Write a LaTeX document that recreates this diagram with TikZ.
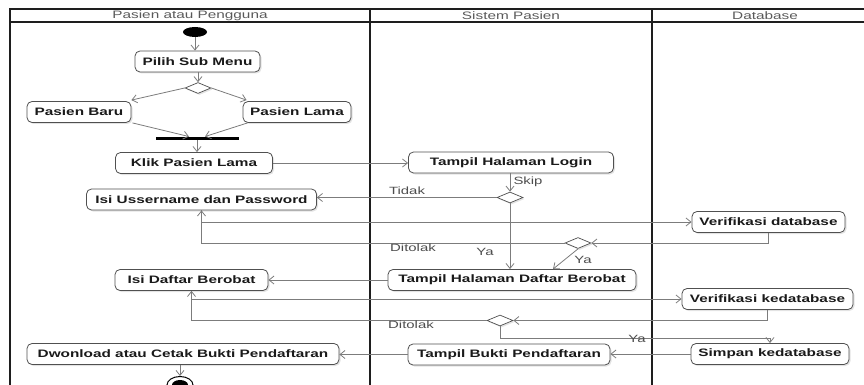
\documentclass[tikz,border=0pt]{standalone}
\usepackage{fontspec}
\setmainfont[FakeStretch=1.42]{Liberation Sans}
\usetikzlibrary{shapes.geometric,arrows.meta,calc,shadows}

\definecolor{framec}{HTML}{1E1E1E}
\definecolor{linec}{HTML}{7C7C7C}
\definecolor{boxc}{HTML}{505050}
\definecolor{txtc}{HTML}{1A1A1A}
\definecolor{lblc}{HTML}{4D4D4D}
\definecolor{hdrc}{HTML}{5A5A5A}

\tikzset{
  softshadow/.style={drop shadow={shadow xshift=1.5pt, shadow yshift=-1.5pt, opacity=0.22, fill=gray}},
  act/.style={draw=boxc, line width=0.8pt, rounded corners=5pt, fill=white,
    minimum height=21pt, inner xsep=2pt, inner ysep=0pt, text=txtc,
    font=\fontsize{10.8}{12}\selectfont\bfseries, softshadow},
  decis/.style={diamond, draw=boxc, line width=0.7pt, fill=white,
    minimum width=26pt, minimum height=11pt, inner sep=0pt, softshadow},
  flow/.style={draw=linec, line width=0.8pt, -{Straight Barb[length=5pt,width=8pt]}},
  lbl/.style={font=\fontsize{10.5}{12}\selectfont, text=lblc, inner sep=0pt},
  hdr/.style={font=\fontsize{10.8}{12}\selectfont, text=hdrc, inner sep=0pt},
  lane/.style={draw=framec, line width=1.6pt},
}

\begin{document}
\begin{tikzpicture}[x=1pt, y=-1pt]
\useasboundingbox (0,0) rectangle (864,385);
\clip (0,0) rectangle (864,385);

% swimlane frame
\draw[lane] (10,400) -- (10,9) -- (870,9);
\draw[lane, line width=1.2pt] (10,22) -- (870,22);
\draw[lane] (370,9) -- (370,400);
\draw[lane] (652,9) -- (652,400);
\node[hdr] (h1) at (190,15.5) {Pasien atau Pengguna};
\node[hdr] (h2) at (511,15.5) {Sistem Pasien};
\node[hdr] (h3) at (765,15.5) {Database};

% start / end
\node[ellipse, fill=black, minimum width=24pt, minimum height=10pt, inner sep=0pt] (start) at (195,32) {};
\node[ellipse, draw=black, line width=1pt, fill=white, minimum width=26pt, minimum height=17pt, inner sep=0pt] (stop) at (180,385) {};
\node[ellipse, fill=black, minimum width=16pt, minimum height=10pt, inner sep=0pt] (stopin) at (stop.center) {};

% activities
\node[act, minimum width=125pt] (pilih) at (197.5,61.5) {Pilih Sub Menu};
\node[decis] (d1) at (198,88) {};
\node[act, minimum width=104pt] (pb) at (79,112) {Pasien Baru};
\node[act, minimum width=108pt] (pl) at (297,112) {Pasien Lama};
\node[fill=black, minimum width=83pt, minimum height=3.5pt, inner sep=0pt] (fork) at (197,138.5) {};
\node[act, minimum width=157pt] (klik) at (194,163) {Klik Pasien Lama};
\node[act, minimum width=205pt] (login) at (511,162.5) {Tampil Halaman Login};
\node[decis] (d2) at (510,197.5) {};
\node[act, minimum width=230pt] (isiu) at (201.5,199.5) {Isi Ussername dan Password};
\node[act, minimum width=153pt] (verdb) at (768.5,222) {Verifikasi database};
\node[decis] (d3) at (578,243) {};
\node[act, minimum width=248pt] (thdb) at (512,280) {Tampil Halaman Daftar Berobat};
\node[act, minimum width=153pt] (isidb) at (191.5,280) {Isi Daftar Berobat};
\node[act, minimum width=171pt] (verkdb) at (767.5,299) {Verifikasi kedatabase};
\node[decis] (d4) at (500,320.5) {};
\node[act, minimum width=158pt] (simpan) at (770,354) {Simpan kedatabase};
\node[act, minimum width=202pt] (tbp) at (509,354.5) {Tampil Bukti Pendaftaran};
\node[act, minimum width=312pt] (dwn) at (183,354) {Dwonload atau Cetak Bukti Pendaftaran};

% flows
\draw[flow] (start) -- (pilih.north -| start);
\draw[flow] (pilih.south -| d1) -- (d1.north);
\draw[flow] (d1.west) -- ($(pb.north east)+(0,-1)$);
\draw[flow] (d1.east) -- ($(pl.north west)+(4,-1)$);
\draw[flow] ($(pb.south east)+(1,0)$) -- ($(fork.north)+(-8,0)$);
\draw[flow] ($(pl.south west)+(5,0)$) -- ($(fork.north)+(8,0)$);
\draw[flow] (fork.south) -- (klik.north -| fork);
\draw[flow] (klik.east) -- (login.west |- klik.east);
\draw[flow] (login.south -| d2) -- (d2.north);
\draw[flow] (d2.west) -- (isiu.east |- d2.west);
\draw[flow] (d2.south) -- (thdb.north -| d2);
\draw[flow] (isiu.south) |- (verdb.west);
\draw[flow] (verdb.south) |- (d3.east);
\draw[flow] (d3.west) -| (isiu.south);
\draw[flow] (d3.south) -- ($(thdb.north)+(41,0)$);
\draw[flow] (thdb.west) -- (isidb.east |- thdb.west);
\draw[flow] (isidb.south) |- (verkdb.west);
\draw[flow] (verkdb.south) |- (d4.east);
\draw[flow] (d4.west) -| (isidb.south);
\draw[flow] (d4.south) -- ++(0,12.5) -| (simpan.north);
\draw[flow] (simpan.west) -- (tbp.east |- simpan.west);
\draw[flow] (tbp.west) -- (dwn.east |- tbp.west);
\draw[flow] (dwn.south -| stop) -- (stop.north);

% guard labels
\node[lbl] (lskip) at (528,182) {Skip};
\node[lbl] (ltidak) at (407,190.5) {Tidak};
\node[lbl] (lya1) at (485,252) {Ya};
\node[lbl] (ltolak1) at (413,247.5) {Ditolak};
\node[lbl] (lya2) at (583,260) {Ya};
\node[lbl] (ltolak2) at (411,324.5) {Ditolak};
\node[lbl] (lya3) at (637,338.5) {Ya};
\end{tikzpicture}
\end{document}
